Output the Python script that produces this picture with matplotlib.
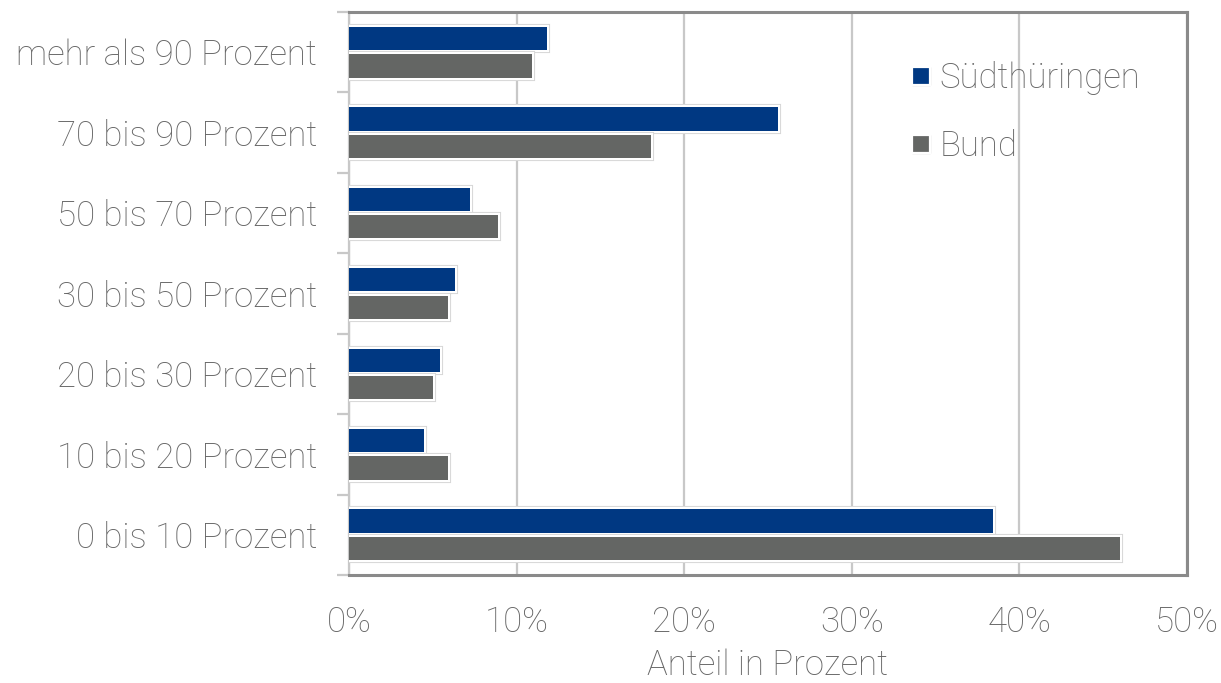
import numpy as np
import matplotlib.pyplot as plt
import matplotlib.patheffects as pe
from matplotlib.lines import Line2D

plt.rcParams['font.family'] = ['Roboto', 'DejaVu Sans']
plt.rcParams['font.weight'] = 'light'
plt.rcParams['axes.labelweight'] = 'light'

# shares per bracket, bottom to top
kategorien = ['0 bis 10 Prozent', '10 bis 20 Prozent', '20 bis 30 Prozent',
              '30 bis 50 Prozent', '50 bis 70 Prozent', '70 bis 90 Prozent',
              'mehr als 90 Prozent']
suedthueringen = [38.4, 4.5, 5.4, 6.3, 7.2, 25.6, 11.8]
bund = [46.0, 5.9, 5.0, 5.9, 8.9, 18.0, 10.9]
xticks = [0, 10, 20, 30, 40, 50]

blau = '#003882'
grau = '#646664'
text_grau = '#666666'
fs = 25

rahmen = [pe.Stroke(linewidth=4.4, foreground='#d6d6d6'),
          pe.Stroke(linewidth=3.0, foreground='white'),
          pe.Normal()]

fig = plt.figure(figsize=(12.21, 6.83), dpi=100)
ax = fig.add_axes([349 / 1221, 1 - 575 / 683, (1187 - 349) / 1221, (575 - 12) / 683])

y = np.arange(len(kategorien))
h = 0.29
off = 0.17
b1 = ax.barh(y + off, suedthueringen, height=h, color=blau, linewidth=0, zorder=3)
b2 = ax.barh(y - off, bund, height=h, color=grau, linewidth=0, zorder=3)
for bar in list(b1) + list(b2):
    bar.set_path_effects(rahmen)

ax.set_xlim(0, 50)
ax.set_ylim(-0.5, len(kategorien) - 0.5)

ax.set_xticks(xticks)
ax.set_xticklabels([f'{v}%' for v in xticks])
ax.tick_params(axis='x', length=0, pad=22, labelsize=fs, labelcolor=text_grau)
ax.grid(axis='x', color='#c8c8c8', linewidth=1.6, zorder=0)
ax.set_axisbelow(True)

# ticks at bracket boundaries, labels at bracket centres
ax.set_yticks(np.arange(-0.5, len(kategorien), 1.0))
ax.set_yticklabels([])
ax.set_yticks(y, minor=True)
ax.set_yticklabels(kategorien, minor=True)
ax.tick_params(axis='y', which='major', length=9, width=1.6, color='#c8c8c8', direction='out')
ax.tick_params(axis='y', which='minor', length=0, pad=23, labelsize=fs, labelcolor=text_grau)

ax.set_xlabel('Anteil in Prozent', fontsize=fs, color=text_grau, labelpad=7, fontweight='light')

ax.spines['left'].set_color('#c8c8c8')
ax.spines['left'].set_linewidth(1.6)
for s in ['top', 'right', 'bottom']:
    ax.spines[s].set_color('#8a8a8a')
    ax.spines[s].set_linewidth(2.2)

handles = [Line2D([], [], linestyle='none', marker='s', markersize=13,
                  markerfacecolor=c, markeredgecolor='white', markeredgewidth=1.6,
                  path_effects=[pe.Stroke(linewidth=1.0, foreground='#d6d6d6'), pe.Normal()])
           for c in (blau, grau)]
leg = ax.legend(handles, ['Südthüringen', 'Bund'], loc='upper left',
                bbox_to_anchor=(0.649, 0.938), frameon=False, fontsize=fs,
                labelspacing=1.0, handletextpad=0.15, handlelength=0.8, borderaxespad=0)
for t in leg.get_texts():
    t.set_color(text_grau)

fig.savefig('out.png', dpi=100)
